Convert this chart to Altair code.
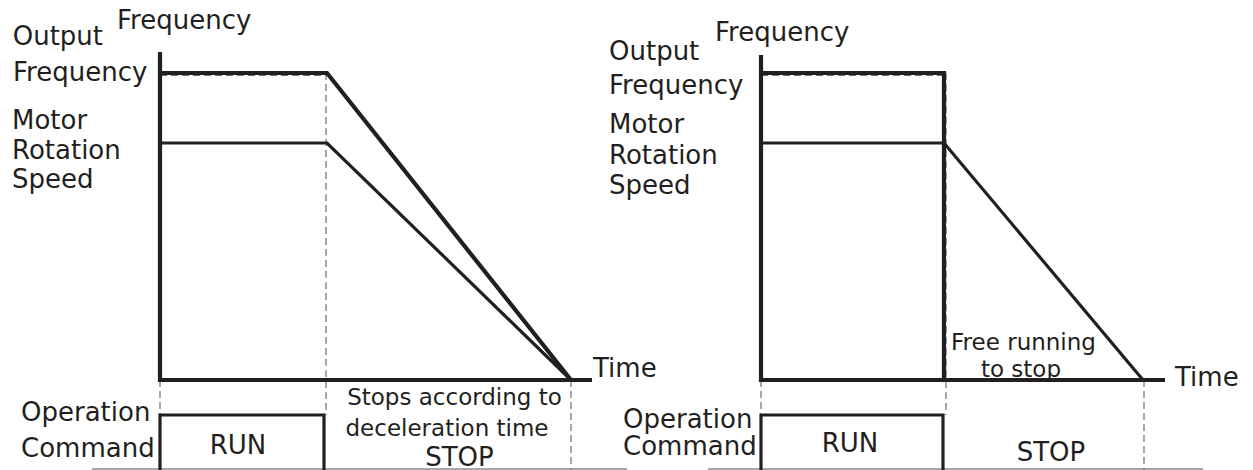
import altair as alt
import pandas as pd

# ---------------- values ----------------
# x: time position, y: frequency in % of the output frequency (0 = time axis)

# left panel: stop by deceleration
L_AXIS_X = [152, 152, 584]
L_AXIS_Y = [106.8, 0, 0]
L_OUTPUT_X = [152, 319, 563]
L_OUTPUT_Y = [100, 100, 0]
L_MOTOR_X = [152, 319, 563]
L_MOTOR_Y = [77.2, 77.2, 0]
L_CMD_X = [152, 152, 316, 316]
L_CMD_Y = [-31, -11.4, -11.4, -31]
L_BASE_X = [84, 619]
L_BASE_Y = [-29.0, -29.0]
L_GUIDE_X = [[152, 152], [318, 318], [563, 563], [152, 319]]
L_GUIDE_Y = [[0, -11.4], [100, -11.4], [0, -31], [99.2, 99.2]]

# right panel: free running to stop
R_AXIS_X = [753, 753, 1157]
R_AXIS_Y = [105.9, 0, 0]
R_OUTPUT_X = [753, 936, 936]
R_OUTPUT_Y = [100, 100, 0]
R_MOTOR_X = [753, 936, 1135]
R_MOTOR_Y = [77.2, 77.2, 0]
R_CMD_X = [753, 753, 935, 935]
R_CMD_Y = [-31, -11.4, -11.4, -31]
R_BASE_X = [700, 1195]
R_BASE_Y = [-29.0, -29.0]
R_GUIDE_X = [[753, 753], [938, 938], [1136, 1136], [753, 936]]
R_GUIDE_Y = [[0, -11.4], [100, -11.4], [0, -31], [99.2, 99.2]]

# labels (left aligned)
LBL_TEXT = ["Frequency", "Output", "Frequency", "Motor", "Rotation", "Speed",
            "Time", "Operation", "Command",
            "Frequency", "Output", "Frequency", "Motor", "Rotation", "Speed",
            "Time", "Operation", "Command"]
LBL_X = [109, 4.7, 5, 4, 4, 4, 585, 13, 13,
         707, 601, 601, 601, 601, 601, 1167, 615, 615]
LBL_Y = [116.9, 111.6, 100.0, 84.4, 74.7, 65.0, 3.7, -10.6, -22.5,
         113.0, 106.7, 95.8, 82.9, 73.0, 63.2, 0.5, -12.9, -21.8]

# state labels (centered)
STATE_TEXT = ["RUN", "STOP", "RUN", "STOP"]
STATE_X = [230, 451.5, 842, 1043]
STATE_Y = [-21.5, -25.4, -20.8, -23.8]

# annotations (centered)
NOTE_TEXT = ["Stops according to", "deceleration time", "Free running", "to stop"]
NOTE_X = [446.5, 439, 1015.5, 1013]
NOTE_Y = [-5.9, -16.0, 12.2, 3.4]

# ---------------- build tables ----------------
def segs(name, xs_list, ys_list):
    rows = []
    for k, (xs, ys) in enumerate(zip(xs_list, ys_list)):
        for i, (xv, yv) in enumerate(zip(xs, ys)):
            rows.append({"seg": f"{name}{k}", "i": i, "x": xv, "y": yv})
    return pd.DataFrame(rows)

thick = segs("t", [L_AXIS_X, L_OUTPUT_X, R_AXIS_X, R_OUTPUT_X],
             [L_AXIS_Y, L_OUTPUT_Y, R_AXIS_Y, R_OUTPUT_Y])
medium = segs("m", [L_MOTOR_X, L_CMD_X, R_MOTOR_X, R_CMD_X],
              [L_MOTOR_Y, L_CMD_Y, R_MOTOR_Y, R_CMD_Y])
base = segs("b", [L_BASE_X, R_BASE_X], [L_BASE_Y, R_BASE_Y])
guides = segs("g", L_GUIDE_X + R_GUIDE_X, L_GUIDE_Y + R_GUIDE_Y)

labels = pd.DataFrame({"t": LBL_TEXT, "x": LBL_X, "y": LBL_Y})
states = pd.DataFrame({"t": STATE_TEXT, "x": STATE_X, "y": STATE_Y})
notes = pd.DataFrame({"t": NOTE_TEXT, "x": NOTE_X, "y": NOTE_Y})

W, H = 1237, 462
xs = alt.Scale(domain=[0, W], range=[0, W], nice=False, zero=False)
ys = alt.Scale(domain=[-29.32, 121.17], nice=False, zero=False)
INK = "#231f20"
FONT = "DejaVu Sans"


def line_layer(df, **mark):
    return alt.Chart(df).mark_line(**mark).encode(
        x=alt.X("x:Q", scale=xs, axis=None),
        y=alt.Y("y:Q", scale=ys, axis=None),
        detail="seg:N",
        order="i:Q",
    )


def text_layer(df, **mark):
    return alt.Chart(df).mark_text(font=FONT, color=INK, baseline="middle", **mark).encode(
        x=alt.X("x:Q", scale=xs, axis=None),
        y=alt.Y("y:Q", scale=ys, axis=None),
        text="t:N",
    )


chart = alt.layer(
    line_layer(base, color="#8a8a8a", strokeWidth=1.5),
    line_layer(guides, color="#6e6e6e", strokeWidth=1.2, strokeDash=[7, 4]),
    line_layer(medium, color=INK, strokeWidth=3.2, strokeJoin="miter"),
    line_layer(thick, color=INK, strokeWidth=4.2, strokeJoin="miter"),
    text_layer(labels, fontSize=26, align="left"),
    text_layer(states, fontSize=26, align="center"),
    text_layer(notes, fontSize=23, align="center"),
).properties(
    width=W, height=H, padding=0,
    autosize=alt.AutoSizeParams(type="none"),
).configure_view(stroke=None)

chart.save("out.html", embed_options={"renderer": "svg", "actions": False})
